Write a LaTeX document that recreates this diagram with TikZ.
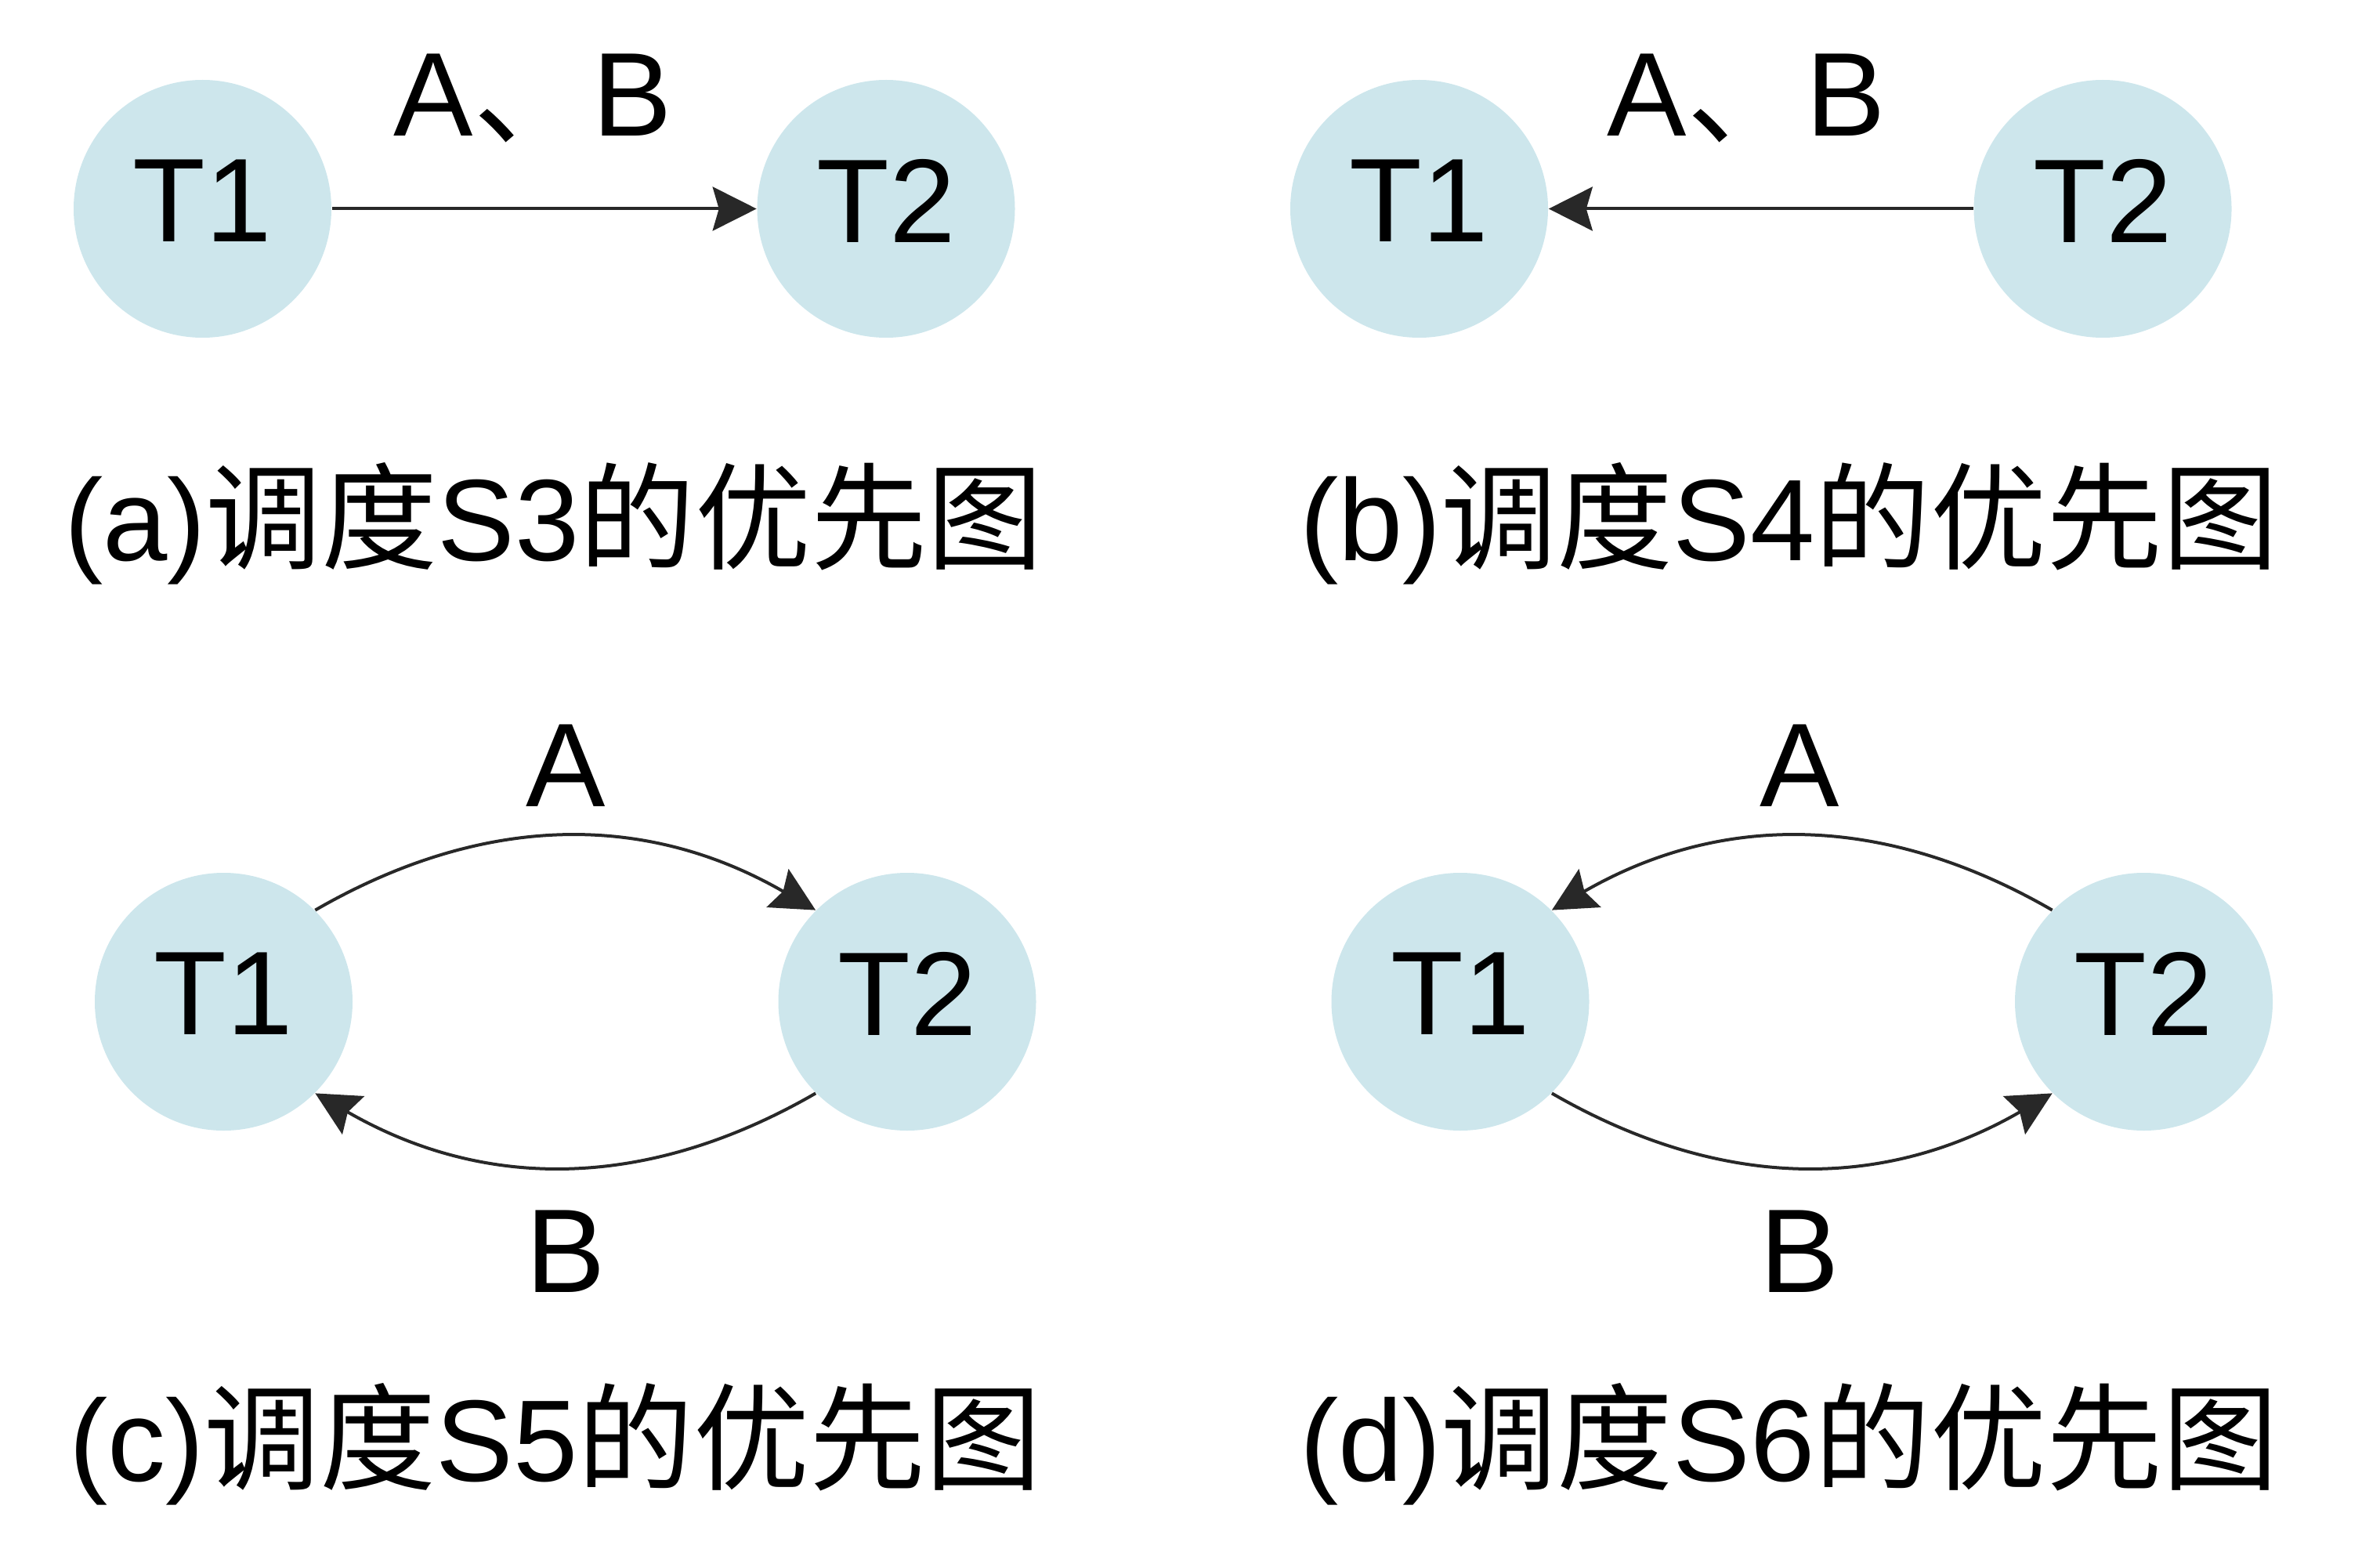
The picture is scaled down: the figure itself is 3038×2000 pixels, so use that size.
\documentclass[tikz,border=0pt]{standalone}
\usepackage{fontspec}
\setmainfont{Liberation Sans}
\newfontfamily\cjk{Noto Sans CJK SC}
\usetikzlibrary{arrows.meta}
\definecolor{circfill}{RGB}{205,230,236}
\definecolor{edgecol}{RGB}{40,40,40}
\newcommand{\tlab}[1]{\raisebox{5pt}{#1}}
\tikzset{
  task/.style={circle, fill=circfill, draw=none, minimum size=82.25pt, inner sep=0pt, font=\fontsize{38pt}{40pt}\selectfont},
  elabel/.style={anchor=base, inner sep=0pt, font=\fontsize{38pt}{40pt}\selectfont},
  caption/.style={anchor=base, inner sep=0pt, font=\fontsize{37pt}{40pt}\selectfont},
  prec/.style={draw=edgecol, line width=1pt, -{Stealth[length=14pt, width=14pt, inset=2pt]}, fill=none}
}
\begin{document}
\begin{tikzpicture}[x=0.25pt, y=-0.25pt]
\useasboundingbox (0,0) rectangle (3038,2000);
% (a)
\node[task] (a1) at (258.5,266.5) {\tlab{T1}};
\node[task] (a2) at (1131,266.5) {\tlab{T2}};
\draw[prec] (a1) -- (a2);
\node[elabel] (alab) at (680,174) {A{\cjk 、}B};
\node[caption] (acap) at (707,715) {(a){\cjk 调度}S3{\cjk 的优先图}};
% (b)
\node[task] (b1) at (1811.5,266.5) {\tlab{T1}};
\node[task] (b2) at (2684,266.5) {\tlab{T2}};
\draw[prec] (b2) -- (b1);
\node[elabel] (blab) at (2229,174) {A{\cjk 、}B};
\node[caption] (bcap) at (2284,715) {(b){\cjk 调度}S4{\cjk 的优先图}};
% (c)
\node[task] (c1) at (285.5,1278.5) {\tlab{T1}};
\node[task] (c2) at (1158,1278.5) {\tlab{T2}};
\draw[prec] (c1.45) to[bend left=30] (c2.135);
\draw[prec] (c2.-135) to[bend left=30] (c1.-45);
\node[elabel] (clabA) at (722,1029) {A};
\node[elabel] (clabB) at (722,1649) {B};
\node[caption] (ccap) at (709,1890) {(c){\cjk 调度}S5{\cjk 的优先图}};
% (d)
\node[task] (d1) at (1864,1278.5) {\tlab{T1}};
\node[task] (d2) at (2736.5,1278.5) {\tlab{T2}};
\draw[prec] (d2.135) to[bend right=30] (d1.45);
\draw[prec] (d1.-45) to[bend right=30] (d2.-135);
\node[elabel] (dlabA) at (2297,1029) {A};
\node[elabel] (dlabB) at (2297,1649) {B};
\node[caption] (dcap) at (2284,1890) {(d){\cjk 调度}S6{\cjk 的优先图}};
\end{tikzpicture}
\end{document}
